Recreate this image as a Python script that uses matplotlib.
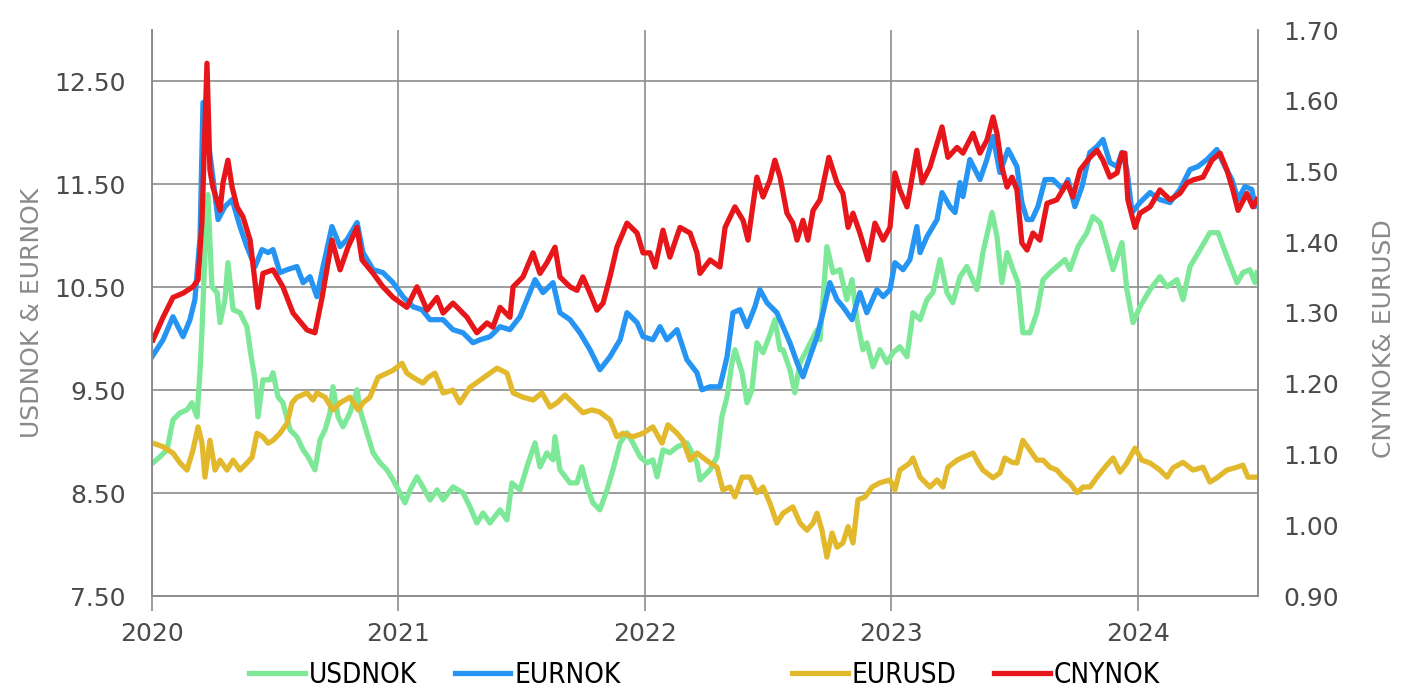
import matplotlib
matplotlib.use("Agg")
import matplotlib.pyplot as plt
from matplotlib.ticker import FormatStrFormatter

plt.rcParams['font.family'] = ['DejaVu Sans']

# daily fixings, thinned out; time in decimal years
usdnok_t = [2020.004, 2020.032, 2020.061, 2020.085, 2020.114, 2020.142, 2020.162, 2020.183, 2020.195, 2020.203,
            2020.215, 2020.227, 2020.243, 2020.264, 2020.276, 2020.296, 2020.308, 2020.329, 2020.357, 2020.385,
            2020.398, 2020.418, 2020.430, 2020.450, 2020.479, 2020.491, 2020.511, 2020.531, 2020.560, 2020.588,
            2020.613, 2020.633, 2020.661, 2020.682, 2020.702, 2020.722, 2020.734, 2020.755, 2020.775, 2020.803,
            2020.832, 2020.844, 2020.872, 2020.897, 2020.925, 2020.953, 2020.978, 2021.006, 2021.026, 2021.047,
            2021.075, 2021.099, 2021.128, 2021.156, 2021.181, 2021.221, 2021.262, 2021.290, 2021.318, 2021.343,
            2021.371, 2021.412, 2021.440, 2021.460, 2021.493, 2021.521, 2021.554, 2021.574, 2021.602, 2021.627,
            2021.635, 2021.655, 2021.696, 2021.724, 2021.744, 2021.765, 2021.789, 2021.817, 2021.846, 2021.870,
            2021.899, 2021.927, 2021.951, 2021.980, 2022.008, 2022.032, 2022.049, 2022.073, 2022.101, 2022.130,
            2022.170, 2022.211, 2022.223, 2022.264, 2022.292, 2022.312, 2022.333, 2022.353, 2022.365, 2022.394,
            2022.414, 2022.434, 2022.454, 2022.479, 2022.507, 2022.527, 2022.548, 2022.560, 2022.588, 2022.608,
            2022.629, 2022.657, 2022.698, 2022.710, 2022.738, 2022.763, 2022.791, 2022.819, 2022.840, 2022.860,
            2022.884, 2022.900, 2022.925, 2022.953, 2022.982, 2023.006, 2023.034, 2023.063, 2023.087, 2023.116,
            2023.144, 2023.168, 2023.197, 2023.225, 2023.249, 2023.278, 2023.306, 2023.347, 2023.371, 2023.408,
            2023.428, 2023.448, 2023.469, 2023.493, 2023.513, 2023.533, 2023.562, 2023.590, 2023.615, 2023.643,
            2023.671, 2023.704, 2023.724, 2023.757, 2023.793, 2023.817, 2023.846, 2023.874, 2023.899, 2023.935,
            2023.955, 2023.980, 2024.008, 2024.049, 2024.089, 2024.118, 2024.158, 2024.183, 2024.211, 2024.252,
            2024.292, 2024.325, 2024.361, 2024.402, 2024.426, 2024.454, 2024.475, 2024.483]
usdnok = [8.794, 8.852, 8.920, 9.212, 9.280, 9.309, 9.378, 9.241, 9.699, 10.088,
          10.837, 11.401, 10.506, 10.448, 10.156, 10.380, 10.739, 10.282, 10.253, 10.117,
          9.893, 9.601, 9.241, 9.601, 9.601, 9.669, 9.436, 9.378, 9.115, 9.047,
          8.920, 8.852, 8.726, 9.018, 9.115, 9.280, 9.533, 9.241, 9.144, 9.280,
          9.504, 9.309, 9.086, 8.891, 8.794, 8.726, 8.628, 8.502, 8.405, 8.531,
          8.658, 8.560, 8.434, 8.531, 8.434, 8.560, 8.502, 8.366, 8.210, 8.307,
          8.210, 8.337, 8.239, 8.599, 8.531, 8.755, 8.988, 8.755, 8.891, 8.823,
          9.047, 8.726, 8.599, 8.599, 8.755, 8.560, 8.405, 8.337, 8.531, 8.726,
          8.988, 9.086, 8.988, 8.852, 8.794, 8.823, 8.658, 8.920, 8.891, 8.949,
          8.988, 8.794, 8.628, 8.726, 8.852, 9.241, 9.436, 9.767, 9.893, 9.669,
          9.378, 9.504, 9.961, 9.864, 10.039, 10.185, 9.893, 9.893, 9.699, 9.475,
          9.767, 9.893, 10.088, 9.990, 10.895, 10.642, 10.671, 10.380, 10.574, 10.185,
          9.893, 9.961, 9.728, 9.893, 9.767, 9.864, 9.922, 9.825, 10.253, 10.185,
          10.380, 10.448, 10.769, 10.448, 10.350, 10.603, 10.701, 10.477, 10.837, 11.226,
          10.992, 10.545, 10.837, 10.671, 10.545, 10.058, 10.058, 10.253, 10.574, 10.642,
          10.701, 10.769, 10.671, 10.895, 11.031, 11.187, 11.129, 10.895, 10.671, 10.934,
          10.477, 10.156, 10.311, 10.477, 10.603, 10.506, 10.574, 10.380, 10.701, 10.866,
          11.031, 11.031, 10.798, 10.545, 10.642, 10.671, 10.545, 10.642]

eurnok_t = [2020.000, 2020.045, 2020.085, 2020.126, 2020.154, 2020.174, 2020.195, 2020.207, 2020.243, 2020.268,
            2020.296, 2020.325, 2020.357, 2020.385, 2020.418, 2020.446, 2020.471, 2020.491, 2020.519, 2020.548,
            2020.588, 2020.613, 2020.641, 2020.669, 2020.694, 2020.730, 2020.763, 2020.791, 2020.832, 2020.856,
            2020.897, 2020.937, 2020.978, 2021.018, 2021.059, 2021.095, 2021.128, 2021.181, 2021.221, 2021.262,
            2021.302, 2021.331, 2021.371, 2021.412, 2021.452, 2021.493, 2021.521, 2021.554, 2021.586, 2021.627,
            2021.655, 2021.696, 2021.736, 2021.777, 2021.817, 2021.858, 2021.899, 2021.927, 2021.968, 2021.992,
            2022.032, 2022.061, 2022.089, 2022.130, 2022.170, 2022.211, 2022.231, 2022.264, 2022.304, 2022.333,
            2022.357, 2022.385, 2022.414, 2022.446, 2022.466, 2022.495, 2022.535, 2022.560, 2022.588, 2022.617,
            2022.641, 2022.669, 2022.698, 2022.722, 2022.750, 2022.779, 2022.803, 2022.840, 2022.872, 2022.900,
            2022.941, 2022.966, 2022.994, 2023.014, 2023.047, 2023.075, 2023.103, 2023.116, 2023.144, 2023.185,
            2023.205, 2023.237, 2023.258, 2023.278, 2023.290, 2023.318, 2023.359, 2023.387, 2023.412, 2023.440,
            2023.473, 2023.509, 2023.529, 2023.550, 2023.570, 2023.594, 2023.623, 2023.655, 2023.696, 2023.716,
            2023.744, 2023.773, 2023.805, 2023.834, 2023.858, 2023.886, 2023.915, 2023.935, 2023.955, 2023.976,
            2024.008, 2024.049, 2024.089, 2024.130, 2024.170, 2024.211, 2024.243, 2024.280, 2024.320, 2024.353,
            2024.381, 2024.406, 2024.434, 2024.462, 2024.475, 2024.483]
eurnok = [9.825, 9.990, 10.214, 10.020, 10.185, 10.380, 10.992, 12.296, 11.644, 11.158,
          11.284, 11.352, 11.090, 10.895, 10.701, 10.866, 10.837, 10.866, 10.642, 10.671,
          10.701, 10.545, 10.603, 10.409, 10.701, 11.090, 10.895, 10.963, 11.129, 10.837,
          10.671, 10.642, 10.545, 10.409, 10.311, 10.282, 10.185, 10.185, 10.088, 10.058,
          9.961, 9.990, 10.020, 10.117, 10.088, 10.214, 10.380, 10.574, 10.448, 10.545,
          10.253, 10.185, 10.058, 9.893, 9.699, 9.825, 9.990, 10.253, 10.156, 10.020,
          9.990, 10.117, 9.990, 10.088, 9.796, 9.669, 9.504, 9.533, 9.533, 9.825,
          10.253, 10.282, 10.117, 10.311, 10.477, 10.350, 10.253, 10.117, 9.961, 9.767,
          9.630, 9.825, 10.020, 10.253, 10.545, 10.380, 10.311, 10.185, 10.448, 10.253,
          10.477, 10.409, 10.477, 10.739, 10.671, 10.769, 11.090, 10.837, 10.992, 11.158,
          11.420, 11.284, 11.226, 11.518, 11.381, 11.741, 11.547, 11.741, 11.965, 11.615,
          11.839, 11.673, 11.323, 11.158, 11.158, 11.284, 11.547, 11.547, 11.450, 11.547,
          11.284, 11.479, 11.810, 11.868, 11.936, 11.712, 11.673, 11.810, 11.644, 11.226,
          11.323, 11.420, 11.352, 11.323, 11.450, 11.644, 11.673, 11.741, 11.839, 11.673,
          11.547, 11.352, 11.479, 11.450, 11.284, 11.352]

eurusd_t = [2020.004, 2020.045, 2020.085, 2020.114, 2020.142, 2020.166, 2020.187, 2020.203, 2020.215, 2020.235,
            2020.256, 2020.276, 2020.304, 2020.329, 2020.357, 2020.385, 2020.406, 2020.426, 2020.450, 2020.471,
            2020.491, 2020.519, 2020.548, 2020.568, 2020.588, 2020.629, 2020.653, 2020.669, 2020.702, 2020.734,
            2020.763, 2020.803, 2020.836, 2020.856, 2020.884, 2020.917, 2020.953, 2020.978, 2021.014, 2021.034,
            2021.059, 2021.099, 2021.120, 2021.148, 2021.181, 2021.221, 2021.249, 2021.290, 2021.331, 2021.371,
            2021.400, 2021.440, 2021.465, 2021.505, 2021.546, 2021.582, 2021.615, 2021.643, 2021.675, 2021.708,
            2021.748, 2021.785, 2021.817, 2021.858, 2021.886, 2021.911, 2021.951, 2021.992, 2022.032, 2022.069,
            2022.093, 2022.130, 2022.154, 2022.183, 2022.211, 2022.264, 2022.292, 2022.316, 2022.345, 2022.365,
            2022.394, 2022.426, 2022.454, 2022.479, 2022.507, 2022.535, 2022.560, 2022.600, 2022.629, 2022.657,
            2022.682, 2022.698, 2022.718, 2022.738, 2022.759, 2022.779, 2022.803, 2022.824, 2022.844, 2022.864,
            2022.893, 2022.921, 2022.953, 2022.994, 2023.014, 2023.034, 2023.075, 2023.087, 2023.116, 2023.156,
            2023.185, 2023.209, 2023.229, 2023.266, 2023.290, 2023.310, 2023.331, 2023.351, 2023.371, 2023.412,
            2023.440, 2023.460, 2023.489, 2023.509, 2023.533, 2023.562, 2023.590, 2023.615, 2023.643, 2023.671,
            2023.696, 2023.724, 2023.753, 2023.777, 2023.805, 2023.834, 2023.866, 2023.899, 2023.927, 2023.955,
            2023.988, 2024.016, 2024.049, 2024.089, 2024.118, 2024.142, 2024.183, 2024.223, 2024.264, 2024.292,
            2024.320, 2024.361, 2024.402, 2024.426, 2024.446, 2024.483]
eurusd = [1.116, 1.111, 1.102, 1.088, 1.078, 1.106, 1.139, 1.116, 1.068, 1.120,
          1.078, 1.092, 1.078, 1.092, 1.078, 1.088, 1.096, 1.130, 1.125, 1.116,
          1.120, 1.130, 1.144, 1.173, 1.181, 1.187, 1.177, 1.187, 1.181, 1.163,
          1.173, 1.181, 1.163, 1.173, 1.181, 1.209, 1.215, 1.219, 1.229, 1.215,
          1.209, 1.201, 1.209, 1.215, 1.187, 1.191, 1.173, 1.195, 1.205, 1.215,
          1.222, 1.215, 1.187, 1.181, 1.177, 1.187, 1.167, 1.173, 1.184, 1.173,
          1.159, 1.163, 1.160, 1.149, 1.125, 1.130, 1.125, 1.130, 1.139, 1.116,
          1.142, 1.130, 1.120, 1.092, 1.102, 1.088, 1.082, 1.050, 1.054, 1.040,
          1.068, 1.068, 1.046, 1.054, 1.031, 1.003, 1.017, 1.026, 1.003, 0.993,
          1.003, 1.017, 0.993, 0.955, 0.989, 0.969, 0.975, 0.998, 0.975, 1.036,
          1.040, 1.054, 1.060, 1.064, 1.050, 1.078, 1.088, 1.095, 1.068, 1.054,
          1.064, 1.054, 1.082, 1.092, 1.096, 1.099, 1.102, 1.089, 1.078, 1.067,
          1.074, 1.095, 1.089, 1.088, 1.120, 1.106, 1.092, 1.092, 1.082, 1.078,
          1.068, 1.060, 1.046, 1.054, 1.054, 1.068, 1.082, 1.095, 1.075, 1.088,
          1.109, 1.092, 1.088, 1.078, 1.068, 1.081, 1.089, 1.078, 1.082, 1.061,
          1.067, 1.078, 1.082, 1.085, 1.068, 1.068]

cnynok_t = [2020.004, 2020.045, 2020.085, 2020.126, 2020.166, 2020.187, 2020.203, 2020.223, 2020.235, 2020.247,
            2020.276, 2020.288, 2020.308, 2020.325, 2020.345, 2020.369, 2020.398, 2020.430, 2020.450, 2020.491,
            2020.531, 2020.572, 2020.629, 2020.661, 2020.690, 2020.730, 2020.763, 2020.795, 2020.832, 2020.852,
            2020.897, 2020.937, 2020.978, 2021.034, 2021.075, 2021.116, 2021.156, 2021.181, 2021.221, 2021.278,
            2021.318, 2021.359, 2021.383, 2021.412, 2021.452, 2021.465, 2021.505, 2021.546, 2021.574, 2021.602,
            2021.635, 2021.655, 2021.696, 2021.724, 2021.748, 2021.777, 2021.805, 2021.830, 2021.858, 2021.886,
            2021.927, 2021.968, 2021.992, 2022.020, 2022.041, 2022.073, 2022.101, 2022.142, 2022.183, 2022.211,
            2022.223, 2022.264, 2022.304, 2022.325, 2022.365, 2022.398, 2022.418, 2022.454, 2022.479, 2022.507,
            2022.527, 2022.548, 2022.576, 2022.600, 2022.617, 2022.641, 2022.661, 2022.682, 2022.710, 2022.746,
            2022.779, 2022.803, 2022.824, 2022.844, 2022.872, 2022.905, 2022.933, 2022.966, 2022.994, 2023.014,
            2023.034, 2023.063, 2023.103, 2023.124, 2023.156, 2023.185, 2023.205, 2023.229, 2023.266, 2023.290,
            2023.331, 2023.359, 2023.387, 2023.412, 2023.428, 2023.448, 2023.469, 2023.489, 2023.509, 2023.529,
            2023.550, 2023.574, 2023.602, 2023.631, 2023.671, 2023.712, 2023.736, 2023.765, 2023.805, 2023.834,
            2023.858, 2023.886, 2023.915, 2023.935, 2023.947, 2023.959, 2023.988, 2024.008, 2024.049, 2024.089,
            2024.130, 2024.170, 2024.199, 2024.223, 2024.264, 2024.300, 2024.333, 2024.361, 2024.385, 2024.406,
            2024.442, 2024.466, 2024.483]
cnynok = [1.262, 1.294, 1.322, 1.328, 1.337, 1.347, 1.431, 1.653, 1.502, 1.478,
          1.445, 1.484, 1.516, 1.478, 1.450, 1.436, 1.403, 1.308, 1.356, 1.361,
          1.337, 1.300, 1.276, 1.272, 1.322, 1.403, 1.361, 1.393, 1.421, 1.375,
          1.356, 1.337, 1.322, 1.308, 1.337, 1.304, 1.322, 1.300, 1.314, 1.294,
          1.272, 1.286, 1.280, 1.308, 1.294, 1.337, 1.351, 1.385, 1.356, 1.371,
          1.393, 1.351, 1.337, 1.332, 1.351, 1.328, 1.304, 1.314, 1.351, 1.393,
          1.427, 1.413, 1.385, 1.385, 1.365, 1.417, 1.379, 1.421, 1.413, 1.385,
          1.356, 1.375, 1.365, 1.421, 1.450, 1.431, 1.403, 1.492, 1.464, 1.488,
          1.516, 1.492, 1.441, 1.427, 1.403, 1.431, 1.403, 1.445, 1.460, 1.520,
          1.484, 1.469, 1.421, 1.441, 1.413, 1.375, 1.427, 1.403, 1.421, 1.498,
          1.474, 1.450, 1.530, 1.484, 1.506, 1.540, 1.563, 1.520, 1.534, 1.526,
          1.554, 1.526, 1.544, 1.577, 1.554, 1.506, 1.478, 1.492, 1.474, 1.399,
          1.389, 1.413, 1.403, 1.455, 1.460, 1.484, 1.464, 1.502, 1.520, 1.530,
          1.516, 1.492, 1.498, 1.526, 1.526, 1.460, 1.421, 1.441, 1.450, 1.474,
          1.460, 1.469, 1.484, 1.488, 1.492, 1.516, 1.526, 1.502, 1.474, 1.445,
          1.469, 1.450, 1.460]

years = [2020, 2021, 2022, 2023, 2024]
left_ticks = [7.5, 8.5, 9.5, 10.5, 11.5, 12.5]
right_ticks = [0.9, 1.0, 1.1, 1.2, 1.3, 1.4, 1.5, 1.6, 1.7]

GREEN = "#7de898"
BLUE = "#2594f3"
GOLD = "#e2b92c"
RED = "#e6161a"
GRID = "#8c8c8c"
TICK_TEXT = "#4a4a4a"
LW = 3.8

W, H = 1401, 687
fig = plt.figure(figsize=(W / 100, H / 100), dpi=100)
ax = fig.add_axes([152 / W, 1 - 596 / H, (1258 - 152) / W, (596 - 30) / H])
ax2 = ax.twinx()

l1, = ax.plot(usdnok_t, usdnok, color=GREEN, lw=LW, label="USDNOK")
l2, = ax.plot(eurnok_t, eurnok, color=BLUE, lw=LW, label="EURNOK")
l3, = ax2.plot(eurusd_t, eurusd, color=GOLD, lw=LW, label="EURUSD")
l4, = ax2.plot(cnynok_t, cnynok, color=RED, lw=LW, label="CNYNOK")

ax.set_xlim(2020, 2024.487)
ax.set_ylim(7.5, 13.0)
ax2.set_ylim(0.9, 1.7)

ax.set_xticks(years, labels=[str(y) for y in years])
ax.set_yticks(left_ticks)
ax.yaxis.set_major_formatter(FormatStrFormatter('%.2f'))
ax2.set_yticks(right_ticks)
ax2.yaxis.set_major_formatter(FormatStrFormatter('%.2f'))

ax.grid(True, color=GRID, lw=1.2)
ax.set_axisbelow(True)
ax.tick_params(axis='x', length=11, width=1.2, color=GRID, pad=8,
               labelsize=18, labelcolor=TICK_TEXT)
ax.tick_params(axis='y', length=0, pad=19, labelsize=18, labelcolor=TICK_TEXT)
ax2.tick_params(axis='y', length=0, pad=18, labelsize=18, labelcolor=TICK_TEXT)

for a in (ax, ax2):
    a.spines['top'].set_visible(False)
    for side in ('left', 'right', 'bottom'):
        a.spines[side].set_color(GRID)
        a.spines[side].set_linewidth(1.2)

ax.set_ylabel("USDNOK & EURNOK", fontsize=18, color="#8a8a8a")
ax.yaxis.set_label_coords(-0.0977, 0.5)
ax2.set_ylabel("CNYNOK& EURUSD", fontsize=18, color="#8a8a8a")
ax2.yaxis.set_label_coords(1.1031, 0.455)

# two legend groups under the plot, one per y axis
legend_kw = dict(ncol=2, frameon=False, handlelength=2.0, handletextpad=0.15,
                 columnspacing=1.35, loc='center',
                 prop=dict(family='DejaVu Sans', stretch='condensed', size=20))
fig.legend(handles=[l1, l2], bbox_to_anchor=(435 / W, 1 - 675 / H), **legend_kw)
fig.legend(handles=[l3, l4], bbox_to_anchor=(976 / W, 1 - 675 / H), **legend_kw)

fig.savefig("out.png", dpi=100)
